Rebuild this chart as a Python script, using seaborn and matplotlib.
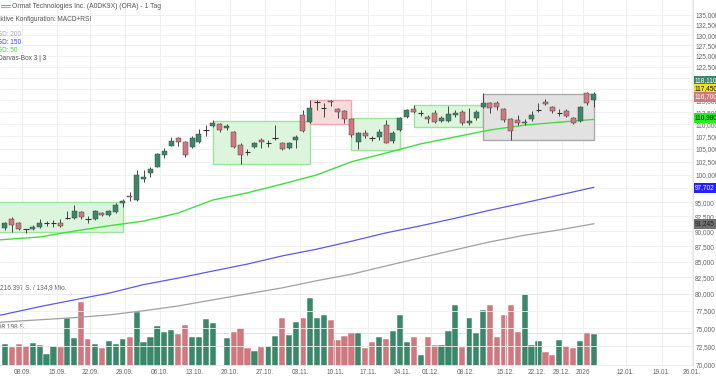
import numpy as np
import matplotlib
matplotlib.use("Agg")
import matplotlib.pyplot as plt
from matplotlib.patches import Rectangle
from matplotlib.lines import Line2D
from matplotlib.ticker import FixedLocator, NullLocator, NullFormatter, FixedFormatter
import seaborn as sns

sns.set_theme(style="white")
plt.rcParams['font.family'] = ['Liberation Sans', 'DejaVu Sans']

# ---------------- data ----------------
opens = [90.5, 92.1, 91.4, 90.3, 90.4, 90.7, 91.4, 91.4, 91.4, 92.2,
         92.2, 93.3, 92.1, 92.1, 93.1, 92.8, 93.3, 94.9, 96.2, 95.4,
         99.2, 100.4, 101.5, 103.8, 105.6, 107.2, 106.4, 105.4, 106.4, 108.8,
         109.6, 110.0, 109.2, 108.4, 105.8, 104.4, 105.4, 106.8, 106.2, 107.2,
         106.2, 105.2, 106.8, 111.9, 110.4, 114.7, 113.4, 114.8, 113.2, 112.8,
         111.1, 106.4, 108.2, 107.2, 107.4, 109.8, 106.6, 108.8, 111.5, 113.2,
         112.3, 111.5, 112.3, 110.6, 110.6, 111.9, 112.5, 110.2, 111.3, 113.6,
         114.5, 114.4, 113.2, 111.1, 110.9, 110.3, 111.1, 112.9, 114.7, 113.6,
         112.3, 112.8, 111.3, 110.6, 116.6, 115.1]
closes = [91.4, 91.0, 90.4, 90.2, 90.7, 91.4, 91.45, 91.5, 90.9, 92.3,
          93.5, 92.4, 92.0, 93.5, 92.8, 93.5, 94.5, 95.2, 96.0, 100.0,
          99.6, 101.1, 104.0, 104.6, 106.6, 106.4, 103.8, 107.2, 108.0, 108.9,
          110.2, 108.8, 109.6, 105.4, 103.8, 104.3, 106.2, 106.4, 106.3, 107.3,
          105.0, 106.2, 107.4, 108.6, 113.4, 114.8, 113.5, 114.6, 112.5, 111.1,
          107.8, 108.2, 107.6, 107.1, 108.4, 106.2, 108.2, 111.3, 113.0, 112.5,
          112.4, 111.1, 110.4, 111.3, 112.1, 112.3, 110.2, 110.6, 112.5, 114.5,
          113.4, 113.5, 110.9, 108.6, 110.2, 110.5, 111.9, 113.0, 114.2, 112.8,
          112.4, 111.7, 110.2, 113.6, 114.5, 116.4]
highs = [91.6, 92.4, 91.6, 90.4, 91.0, 92.1, 91.8, 91.9, 92.1, 93.5,
         94.5, 93.5, 92.6, 93.6, 93.3, 93.6, 94.9, 95.6, 96.9, 100.9,
         100.9, 101.5, 104.2, 105.2, 107.4, 107.4, 106.6, 107.6, 109.0, 109.8,
         110.9, 110.2, 110.0, 108.6, 106.2, 105.0, 106.4, 107.2, 106.8, 109.8,
         106.4, 106.4, 107.8, 113.0, 115.0, 115.0, 114.5, 115.0, 113.4, 113.0,
         111.3, 108.4, 108.8, 107.6, 109.0, 110.9, 108.6, 111.5, 113.2, 114.0,
         113.0, 111.9, 113.0, 111.7, 113.8, 113.0, 113.0, 113.4, 113.0, 116.7,
         114.7, 114.8, 113.4, 111.3, 111.9, 111.1, 112.8, 114.5, 115.3, 113.8,
         113.2, 113.2, 111.5, 113.8, 116.9, 116.9]
lows = [90.2, 89.9, 90.2, 89.7, 90.2, 90.5, 90.9, 90.7, 90.7, 92.1,
        92.1, 92.1, 91.4, 91.9, 92.6, 92.6, 93.1, 94.2, 95.2, 95.2,
        98.7, 99.6, 101.5, 103.2, 105.6, 105.6, 103.4, 105.2, 106.2, 107.6,
        109.4, 108.4, 108.8, 105.2, 102.1, 103.8, 105.2, 105.2, 105.4, 106.8,
        104.8, 105.0, 105.2, 108.4, 110.2, 113.0, 111.5, 113.8, 111.3, 110.2,
        107.4, 105.0, 107.2, 106.6, 106.8, 106.2, 106.2, 108.6, 111.3, 112.3,
        111.7, 110.2, 110.2, 110.4, 110.4, 111.5, 109.8, 109.8, 110.9, 113.4,
        112.3, 113.0, 110.4, 106.8, 109.8, 109.8, 110.6, 112.5, 114.0, 112.3,
        111.7, 111.5, 110.0, 110.4, 114.0, 113.6]
# volume in thousand shares
volumes_k = [66, 57, 66, 60, 69, 63, 36, 60, 57, 144,
             84, 192, 81, 66, 54, 75, 66, 81, 87, 162,
             72, 87, 120, 102, 108, 96, 123, 87, 87, 141,
             129, 0, 84, 102, 114, 54, 45, 57, 60, 90,
             144, 93, 132, 144, 204, 144, 153, 138, 78, 90,
             99, 99, 54, 72, 87, 81, 105, 153, 72, 87,
             33, 87, 63, 63, 105, 183, 57, 144, 99, 168,
             183, 87, 153, 183, 102, 216, 63, 75, 42, 33,
             78, 60, 54, 75, 99, 96]

ma_idx = [-1, 0, 5, 10, 15, 20, 25, 30, 35, 40, 45, 50, 55, 60, 65, 70, 75, 80, 85]
sma50 = [88.5, 88.6, 89.0, 90.0, 90.9, 91.7, 93.1, 95.4, 96.7, 98.3, 100.0,
         102.5, 104.2, 106.0, 107.4, 108.8, 109.8, 110.4, 110.98]
sma150 = [76.8, 77.0, 78.1, 79.1, 80.1, 81.4, 82.4, 83.5, 84.6, 85.9, 87.0,
          88.3, 89.7, 90.9, 92.2, 93.6, 94.9, 96.3, 97.702]
sma200 = [75.8, 75.9, 76.2, 76.5, 76.9, 77.5, 78.2, 79.1, 80.0, 80.9, 82.0,
          83.0, 84.3, 85.6, 86.9, 88.2, 89.3, 90.2, 91.245]

box_start = [-1, 30, 44, 50, 59, 69]
box_end = [17, 44, 50, 57, 69, 85]
box_top = [95.1, 110.6, 115.0, 111.3, 114.0, 116.5]
box_bottom = [89.9, 102.1, 110.0, 104.8, 109.4, 106.8]
box_kind = ['up', 'up', 'down', 'up', 'up', 'open']

date_labels = ['08.09.', '15.09.', '22.09.', '29.09.', '06.10.', '13.10.', '20.10.',
               '27.10.', '03.11.', '10.11.', '17.11.', '24.11.', '01.12.', '08.12.',
               '15.12.', '22.12.', '29.12.', '2026', '12.01.', '19.01.', '26.01.']
date_pos = [2.5, 7.5, 12.3, 17.3, 22.4, 27.4, 32.5, 37.5, 42.6, 47.6, 52.4, 57.4,
            61.5, 66.5, 72.2, 76.8, 80.4, 83.4, 89.6, 94.8, 99.1]

price_ticks = [70 + 2.5 * k for k in range(27)]

badge_texts = ['118,110', '117,450', '116,700', '110,980', '97,702', '91,245']
badge_px_y = [81, 89, 97, 118, 188, 224]
badge_bg = ['#3a8769', '#f3e21a', '#d0787f', '#22ee22', '#2222ff', '#707070']
badge_fg = ['white', '#111111', 'white', '#111111', 'white', '#222222']

vol_max_k = 216.397
vol_avg_k = 98.198

# ---------------- figure ----------------
W, H = 716, 377
fig = plt.figure(figsize=(W / 100, H / 100), dpi=100)
fig.patch.set_facecolor('white')
ax_bottom_px = 366
ax_right_px = 693
ax = fig.add_axes([0, (H - ax_bottom_px) / H, ax_right_px / W, ax_bottom_px / H])
axv = ax.twinx()

GREEN = '#3a8769'
RED = '#d0787f'
FS = 4.7

ax.set_yscale('log')
ax.set_ylim(69.87, 138.85)
ax.set_xlim(-0.72, 99.3)
axv.set_ylim(0, 1098)
axv.set_yticks([])
for s in axv.spines.values():
    s.set_visible(False)

ax.set_zorder(2)
axv.set_zorder(1)
ax.patch.set_visible(False)
axv.patch.set_visible(False)

# grid
for p in price_ticks:
    ax.axhline(p, color='#efefef', lw=0.6, zorder=0)
for xp in date_pos:
    ax.axvline(xp, color='#eeeeee', lw=0.6, zorder=0)

# volume bars
idx = np.arange(len(opens))
vcols = [GREEN if c >= o else RED for o, c in zip(opens, closes)]
axv.bar(idx, volumes_k, width=0.9, color=vcols, edgecolor='white', linewidth=0.35, zorder=2)
axv.axhline(vol_max_k, color='#cfcfcf', lw=0.6, zorder=1)
axv.axhline(vol_avg_k, color='#dcdcdc', lw=0.6, zorder=1)
axv.text(-0.75, vol_max_k + 8, '216.397 S. / 134,9 Mio.', fontsize=FS, color='#666666',
         ha='left', va='bottom')
axv.text(-0.95, vol_avg_k + 8, '98.198 S.', fontsize=FS, color='#666666',
         ha='left', va='bottom')

# Darvas boxes
box_style = {'up': ('#ddf4dd', '#9de49d'), 'down': ('#f8dcdc', '#eeaaaa'),
             'open': ('#e2e2e2', '#aaaaaa')}
for s0, s1, t, b, k in zip(box_start, box_end, box_top, box_bottom, box_kind):
    fc, ec = box_style[k]
    ax.add_patch(Rectangle((s0, b), s1 - s0, t - b, facecolor=fc, edgecolor=ec,
                           lw=1.0, zorder=1))

# moving averages
sns.lineplot(x=ma_idx, y=sma200, ax=ax, color='#a0a0a0', linewidth=0.9, zorder=3, legend=False)
sns.lineplot(x=ma_idx, y=sma150, ax=ax, color='#5a5af0', linewidth=0.9, zorder=3, legend=False)
sns.lineplot(x=ma_idx, y=sma50, ax=ax, color='#3de03d', linewidth=1.0, zorder=3, legend=False)

# candles
ax.vlines(idx, lows, highs, color='#444444', lw=0.7, zorder=4)
for i, (o, c) in enumerate(zip(opens, closes)):
    if abs(c - o) < 0.12:
        ax.hlines(o, i - 0.4, i + 0.4, color='#333333', lw=0.8, zorder=5)
    else:
        ax.bar(i, abs(c - o), bottom=min(o, c), width=0.72,
               color=GREEN if c > o else RED, edgecolor='#4a4a4a', linewidth=0.35, zorder=5)

# axes styling
ax.yaxis.set_major_locator(FixedLocator(price_ticks))
ax.yaxis.set_major_formatter(FixedFormatter([f"{p:.3f}".replace('.', ',') for p in price_ticks]))
ax.yaxis.set_minor_locator(NullLocator())
ax.yaxis.set_minor_formatter(NullFormatter())
ax.yaxis.tick_right()
ax.tick_params(axis='y', length=0, pad=1.6, labelsize=FS, labelcolor='#666666')
ax.set_xticks(date_pos)
ax.set_xticklabels(date_labels)
ax.tick_params(axis='x', length=0, pad=2.0, labelsize=FS, labelcolor='#666666')
ax.set_xlabel('')
ax.set_ylabel('')
for name, s in ax.spines.items():
    if name == 'right':
        s.set_color('#e0e0e0')
        s.set_linewidth(0.6)
    else:
        s.set_visible(False)

# price badges on the right
for t, py, bg, fg in zip(badge_texts, badge_px_y, badge_bg, badge_fg):
    fig.text(695 / W, 1 - py / H, t, fontsize=FS, color=fg, ha='left', va='center',
             zorder=10, bbox=dict(boxstyle='square,pad=0.22', fc=bg, ec='none'))

# header texts
fig.add_artist(Line2D([1 / W, 10 / W], [1 - 5.2 / H, 1 - 5.2 / H], color='#6fae93', lw=0.8))
fig.add_artist(Line2D([1 / W, 10 / W], [1 - 7.2 / H, 1 - 7.2 / H], color='#d9969b', lw=0.8))
fig.text(12 / W, 1 - 6 / H, 'Ormat Technologies Inc. (A0DK9X) (ORA) - 1 Tag', fontsize=FS + 0.2,
         color='#555555', ha='left', va='center')
fig.text(-4 / W, 1 - 19.5 / H, 'Aktive Konfiguration: MACD+RSI', fontsize=FS,
         color='#555555', ha='left', va='center')
fig.text(-3 / W, 1 - 34 / H, 'GD: 200', fontsize=FS, color='#aaaaaa', ha='left', va='center')
fig.text(-3 / W, 1 - 42.5 / H, 'GD: 150', fontsize=FS, color='#4444ff', ha='left', va='center')
fig.text(-3 / W, 1 - 50.7 / H, 'GD: 50', fontsize=FS, color='#33dd33', ha='left', va='center')
fig.text(-2 / W, 1 - 59 / H, 'Darvas-Box 3 | 3', fontsize=FS, color='#555555', ha='left', va='center')

fig.savefig('out.png', dpi=100, facecolor='white')
